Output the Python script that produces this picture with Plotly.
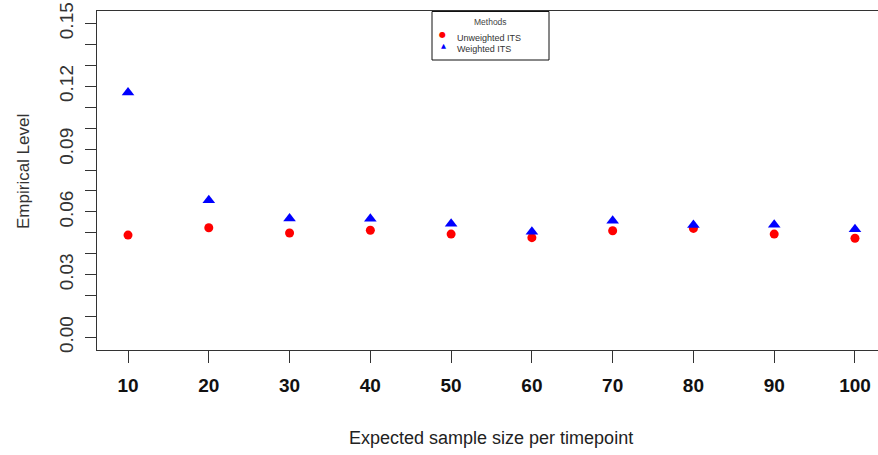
import plotly.graph_objects as go

sample_sizes = [10, 20, 30, 40, 50, 60, 70, 80, 90, 100]
unweighted_its = [0.0489, 0.0524, 0.0499, 0.0512, 0.0494, 0.0477, 0.0510, 0.0521, 0.0494, 0.0474]
weighted_its = [0.1170, 0.0656, 0.0569, 0.0567, 0.0543, 0.0505, 0.0558, 0.0537, 0.0539, 0.0517]
y_tick_vals = [0.00, 0.03, 0.06, 0.09, 0.12, 0.15]
y_tick_text = ["0.00", "0.03", "0.06", "0.09", "0.12", "0.15"]

W, H = 878, 455
ML, MR, MT, MB = 97, 0, 11, 105
PW, PH = W - ML - MR, H - MT - MB

def px(x):
    return (x - ML) / PW

def py(y):
    return (H - MB - y) / PH

FONT = "Liberation Sans, Arial, sans-serif"

fig = go.Figure()
fig.add_trace(go.Scatter(
    x=sample_sizes, y=unweighted_its, mode="markers", name="Unweighted ITS",
    marker=dict(symbol="circle", size=9, color="#ff0000", line=dict(width=0)),
    showlegend=False,
))
fig.add_trace(go.Scatter(
    x=sample_sizes, y=weighted_its, mode="markers", name="Weighted ITS",
    marker=dict(symbol="triangle-up", size=11, color="#0000ff", line=dict(width=0)),
    showlegend=False,
))

fig.update_layout(
    width=W, height=H,
    margin=dict(l=ML, r=MR, t=MT, b=MB, pad=0),
    paper_bgcolor="white", plot_bgcolor="white",
    font=dict(family=FONT, color="#222"),
    xaxis=dict(
        range=[6.16, 102.85], tickmode="array", tickvals=sample_sizes,
        ticktext=[str(v) for v in sample_sizes],
        ticks="outside", ticklen=12, tickwidth=1, tickcolor="#333",
        showline=True, linecolor="#333", linewidth=1.2, mirror=True,
        showgrid=False, zeroline=False,
        tickfont=dict(family=FONT, size=19, color="#111", weight="bold"),
        ticklabelstandoff=6,
    ),
    yaxis=dict(
        range=[-0.006, 0.156], tickmode="array", tickvals=y_tick_vals, ticktext=y_tick_text,
        tickangle=-90,
        ticks="outside", ticklen=11, tickwidth=1, tickcolor="#333",
        minor=dict(dtick=0.01, tick0=0, ticks="outside", ticklen=11, tickwidth=1, tickcolor="#333", showgrid=False),
        showline=True, linecolor="#333", linewidth=1.2, mirror=False,
        showgrid=False, zeroline=False,
        tickfont=dict(family=FONT, size=19, color="#333"),
        ticklabelstandoff=4,
    ),
    showlegend=False,
)

# axis titles
fig.add_annotation(text="Expected sample size per timepoint", xref="paper", yref="paper",
                   x=px(491), y=py(438), showarrow=False, xanchor="center", yanchor="middle",
                   font=dict(family=FONT, size=18, color="#222"))
fig.add_annotation(text="Empirical Level", xref="paper", yref="paper", textangle=-90,
                   x=px(23), y=py(172), showarrow=False, xanchor="center", yanchor="middle",
                   font=dict(family=FONT, size=17, color="#333"))

# legend box (R-style)
fig.add_shape(type="rect", xref="paper", yref="paper",
              x0=px(432), x1=px(549), y0=py(60), y1=py(11.5),
              line=dict(color="#111", width=1), fillcolor="white", layer="above")
fig.add_annotation(text="Methods", xref="paper", yref="paper", x=px(490), y=py(21.5),
                   showarrow=False, xanchor="center", yanchor="middle",
                   font=dict(family=FONT, size=8.5, color="#444"))
fig.add_annotation(text="●", xref="paper", yref="paper", x=px(442.5), y=py(34.5),
                   showarrow=False, xanchor="center", yanchor="middle",
                   font=dict(family="DejaVu Sans", size=8, color="#ff0000"))
fig.add_annotation(text="▲", xref="paper", yref="paper", x=px(443.5), y=py(46.5),
                   showarrow=False, xanchor="center", yanchor="middle",
                   font=dict(family="DejaVu Sans", size=6.5, color="#0000ff"))
fig.add_annotation(text="Unweighted ITS", xref="paper", yref="paper", x=px(455), y=py(37.5),
                   showarrow=False, xanchor="left", yanchor="middle",
                   font=dict(family=FONT, size=9, color="#333"))
fig.add_annotation(text="Weighted ITS", xref="paper", yref="paper", x=px(455), y=py(49),
                   showarrow=False, xanchor="left", yanchor="middle",
                   font=dict(family=FONT, size=9, color="#333"))

fig.write_html("out.html")
